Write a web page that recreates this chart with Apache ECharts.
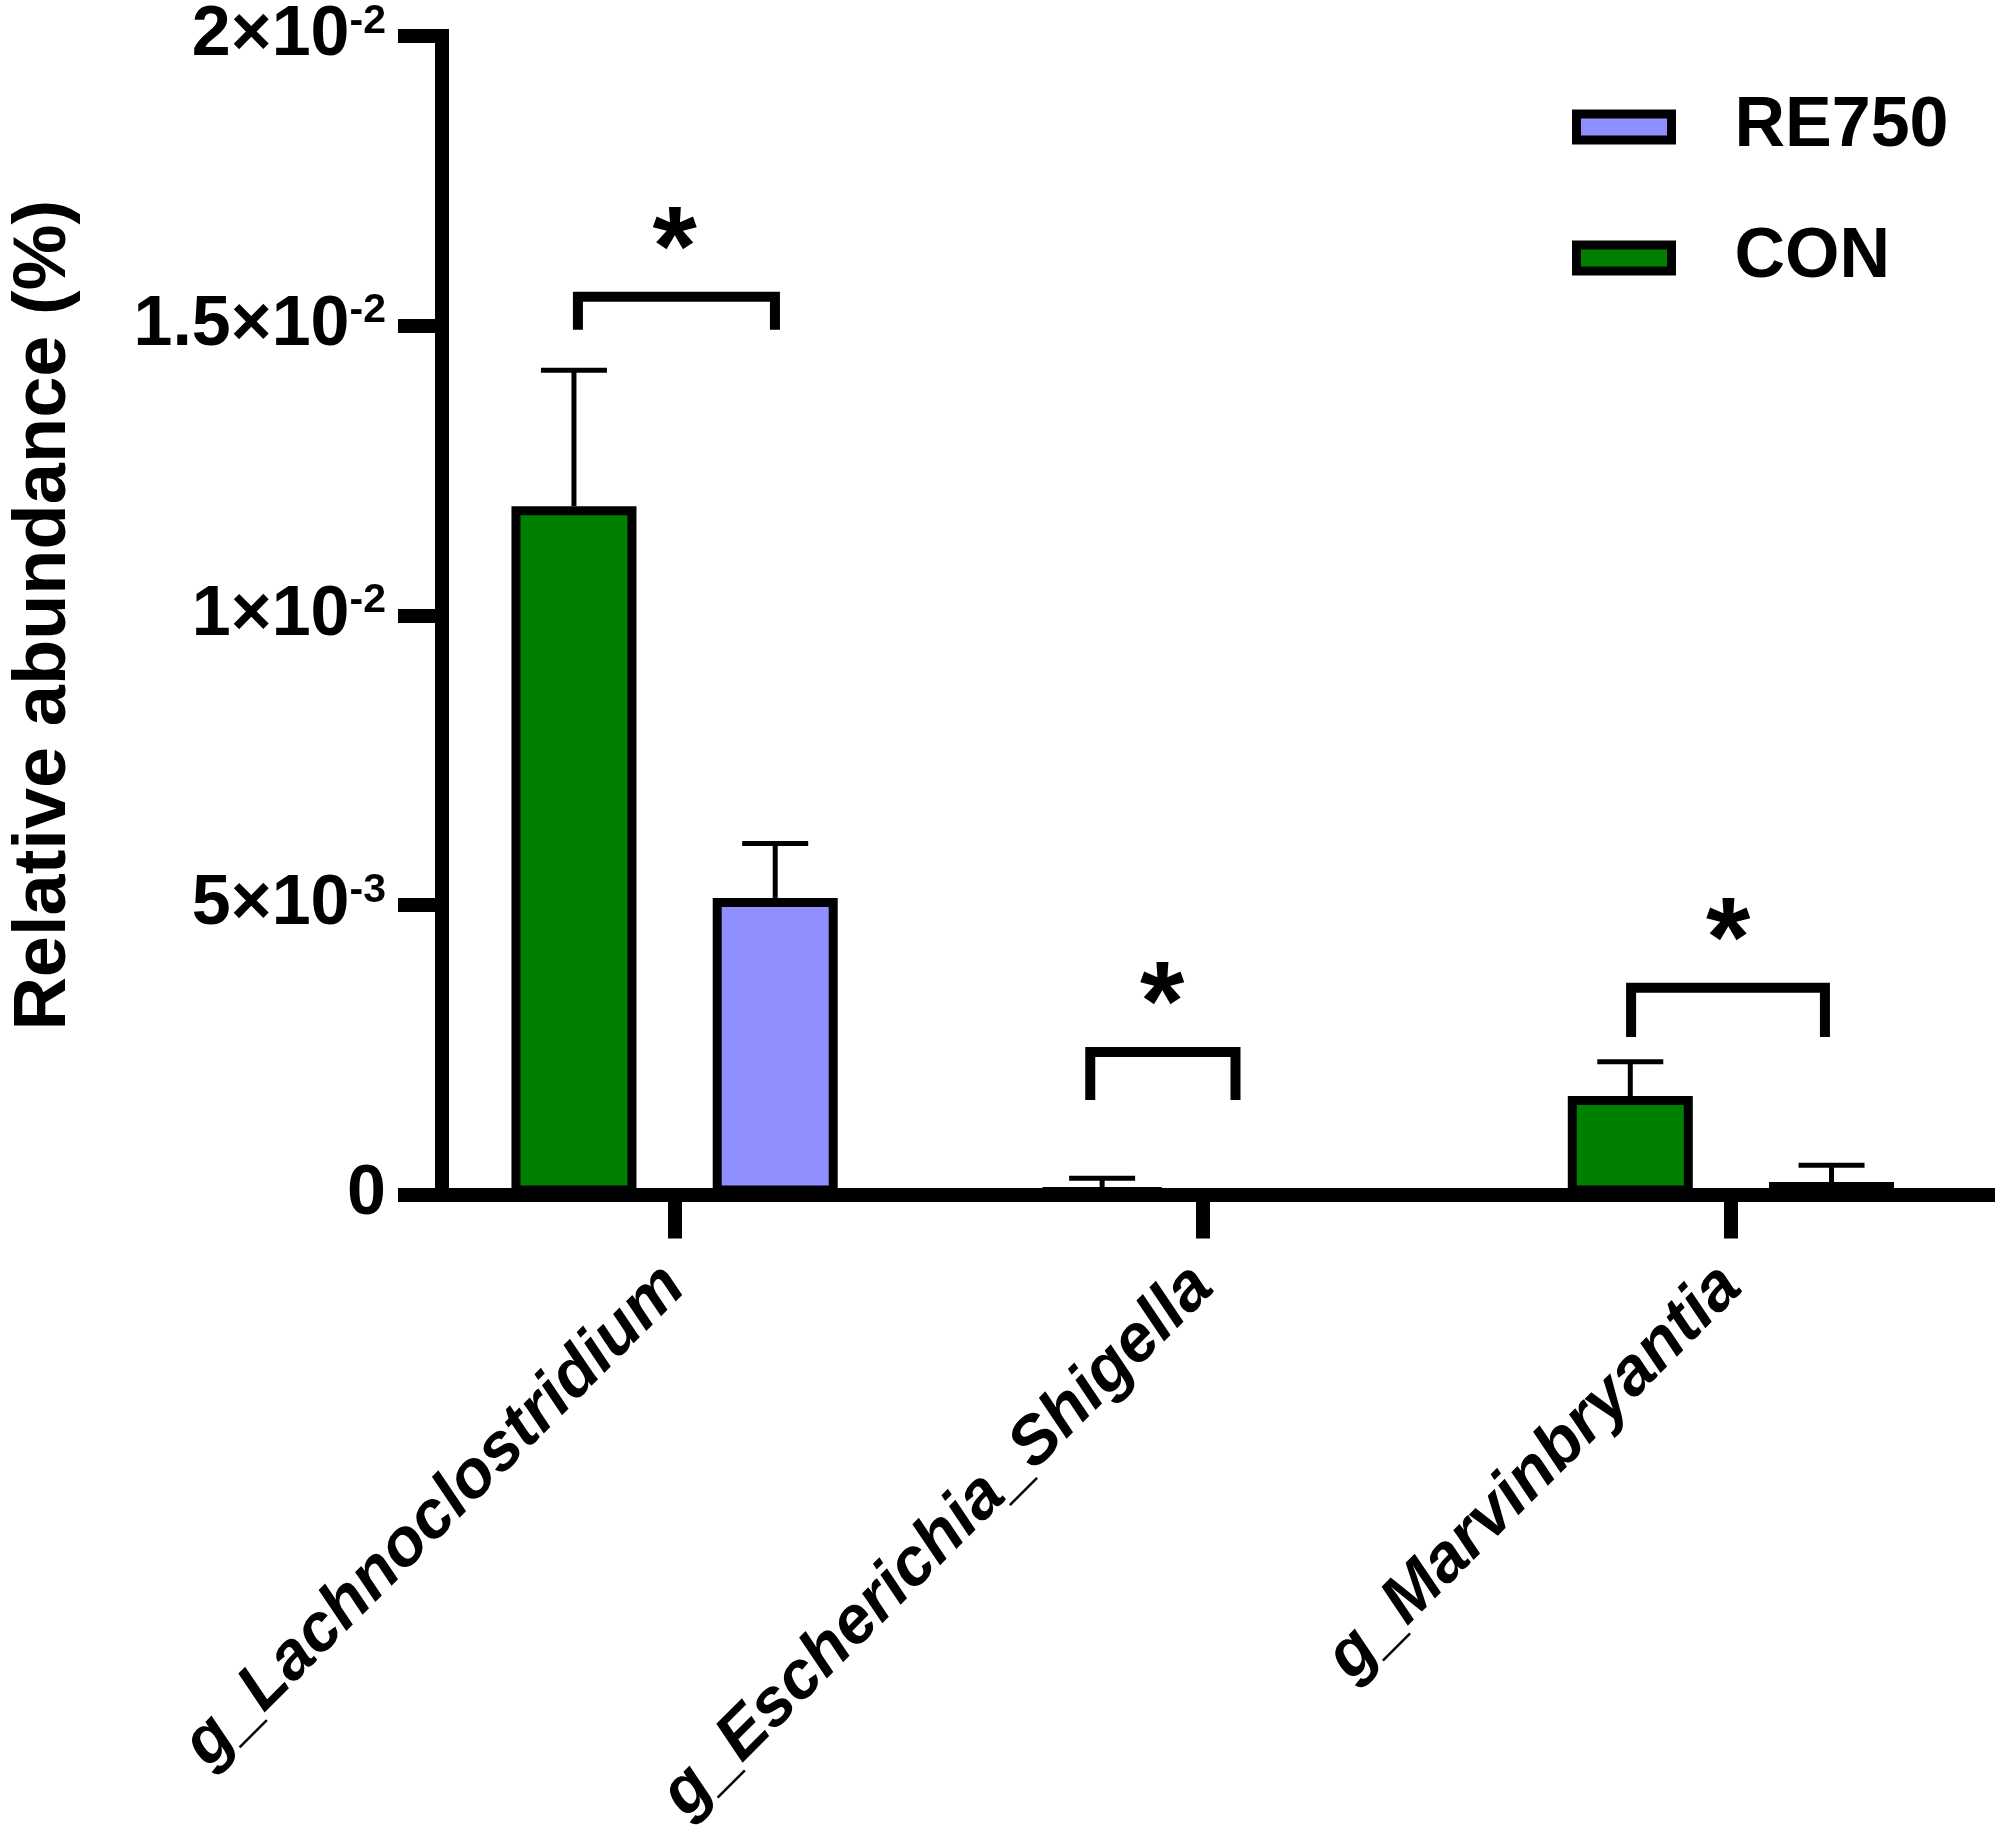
<!DOCTYPE html>
<html><head><meta charset="utf-8">
<script src="https://cdn.jsdelivr.net/npm/echarts@6/dist/echarts.min.js"></script>
<style>html,body{margin:0;padding:0;background:#fff}#c{width:1995px;height:1845px}</style>
</head><body><div id="c"></div>
<script>
// ---- data ----
const categories = ['g_Lachnoclostridium', 'g_Escherichia_Shigella', 'g_Marvinbryantia'];
const conMean = [0.01188, 0.00010, 0.00170];
const conErr  = [0.00235, 0.00018, 0.00059];
const reMean  = [0.00512, 0, 0.000216];
const reErr   = [0.00094, 0, 0.00029];
const yTickMantissa = ['0', '5', '1', '1.5', '2'];
const yTickExponent = ['', '-3', '-2', '-2', '-2'];
const sigCategory = [0, 1, 2];
const sigBracketTop = [0.01550, 0.00246, 0.00357];
const sigBracketLeg = [0.01493, 0.00163, 0.00272];
const sigStarY = [0.01668, 0.00365, 0.00474];
const sigLabel = ['*', '*', '*'];

// ---- layout / style ----
const FONT = '"Liberation Sans", Arial, sans-serif';
const BAR_W = 125, BAR_GAP = 0.61, CAP = 66;
const bracketSpan = [[-0.183, 0.19], [-0.213, 0.062], [-0.189, 0.178]];
const starShift = [0, -0.077, -0.005];
const STAR_SIZE = 114, STAR_DY = 0.22 * STAR_SIZE;

function errRender(sign) {
  return function (params, api) {
    const i = api.value(0), m = api.value(1), e = api.value(2);
    if (!(e > 0)) return null;
    const off = sign * BAR_W * (1 + BAR_GAP) / 2;
    const p0 = api.coord([i, m]);
    const p1 = api.coord([i, m + e]);
    const x = p0[0] + off;
    return {
      type: 'group', children: [
        { type: 'line', shape: { x1: x, y1: p0[1], x2: x, y2: p1[1] }, style: { stroke: '#000', lineWidth: 5 } },
        { type: 'line', shape: { x1: x - CAP / 2, y1: p1[1], x2: x + CAP / 2, y2: p1[1] }, style: { stroke: '#000', lineWidth: 5 } }
      ]
    };
  };
}

function sigRender(params, api) {
  const k = api.value(4);
  const band = api.size([1, 0])[0];
  const c = api.coord([api.value(0), api.value(1)]);
  const leg = api.coord([api.value(0), api.value(2)]);
  const star = api.coord([api.value(0), api.value(3)]);
  const xl = c[0] + bracketSpan[k][0] * band, xr = c[0] + bracketSpan[k][1] * band;
  return {
    type: 'group', children: [
      { type: 'polyline', shape: { points: [[xl, leg[1]], [xl, c[1]], [xr, c[1]], [xr, leg[1]]] },
        style: { stroke: '#000', lineWidth: 10, fill: null, lineJoin: 'miter', lineCap: 'butt' } },
      { type: 'text', x: star[0] + starShift[k] * band, y: star[1] + STAR_DY,
        style: { text: sigLabel[k], fontFamily: FONT, fontWeight: 'bold', fontSize: STAR_SIZE, fill: '#000', align: 'center', verticalAlign: 'middle' } }
    ]
  };
}

const chart = echarts.init(document.getElementById('c'), null, { renderer: 'canvas' });
chart.setOption({
  animation: false,
  backgroundColor: '#fff',
  grid: { left: 404.5, width: 1605, top: 36, bottom: 650.5, containLabel: false },
  legend: {
    data: ['RE750', 'CON'], orient: 'vertical', left: 1567, top: 87,
    itemWidth: 95, itemHeight: 26, itemGap: 61, icon: 'rect', selectedMode: false,
    itemStyle: { borderColor: '#000', borderWidth: 9 },
    textStyle: { fontFamily: FONT, fontWeight: 'bold', fontSize: 70, color: '#000', lineHeight: 70, padding: [0, 0, 0, 58] }
  },
  xAxis: {
    type: 'category', data: categories,
    axisLine: { show: true, lineStyle: { color: '#000', width: 14, cap: 'square' } },
    axisTick: { show: true, alignWithLabel: true, length: 44, lineStyle: { color: '#000', width: 14 } },
    axisLabel: { interval: 0, rotate: 45, margin: 82, padding: [30, 0, 0, 0], fontFamily: FONT, fontSize: 67, fontWeight: 'bold', fontStyle: 'italic', color: '#000' },
    splitLine: { show: false }
  },
  yAxis: {
    type: 'value', min: 0, max: 0.02, interval: 0.005, offset: -31.5,
    axisLine: { show: true, lineStyle: { color: '#000', width: 14, cap: 'square' } },
    axisTick: { show: true, length: 44, lineStyle: { color: '#000', width: 14 } },
    splitLine: { show: false },
    axisLabel: {
      margin: 56,
      formatter: function (v) {
        const idx = Math.round(v / 0.005);
        const m = yTickMantissa[idx], e = yTickExponent[idx];
        return e ? '{m|' + m + '×10}{e|' + e + '}' : '{m|' + m + '}';
      },
      rich: {
        m: { fontFamily: FONT, fontWeight: 'bold', fontSize: 70, lineHeight: 70, color: '#000' },
        e: { fontFamily: FONT, fontWeight: 'bold', fontSize: 41, lineHeight: 41, color: '#000', verticalAlign: 'top' }
      }
    },
    name: 'Relative abundance (%)', nameLocation: 'middle', nameGap: 360,
    nameTextStyle: { fontFamily: FONT, fontWeight: 'bold', fontSize: 74, color: '#000' }
  },
  series: [
    { name: 'CON', type: 'bar', data: conMean, barWidth: BAR_W, barGap: (BAR_GAP * 100) + '%',
      itemStyle: { color: '#008000', borderColor: '#000', borderWidth: 9 }, z: 3 },
    { name: 'RE750', type: 'bar', data: reMean, barWidth: BAR_W, barGap: (BAR_GAP * 100) + '%',
      itemStyle: { color: '#8F8FFF', borderColor: '#000', borderWidth: 9 }, z: 3 },
    { name: 'errCON', type: 'custom', renderItem: errRender(-1), z: 2,
      data: categories.map((c, i) => [i, conMean[i], conErr[i]]) },
    { name: 'errRE750', type: 'custom', renderItem: errRender(1), z: 2,
      data: categories.map((c, i) => [i, reMean[i], reErr[i]]) },
    { name: 'sig', type: 'custom', renderItem: sigRender, z: 4,
      data: sigCategory.map((c, k) => [c, sigBracketTop[k], sigBracketLeg[k], sigStarY[k], k]) }
  ]
});
</script>
</body></html>
